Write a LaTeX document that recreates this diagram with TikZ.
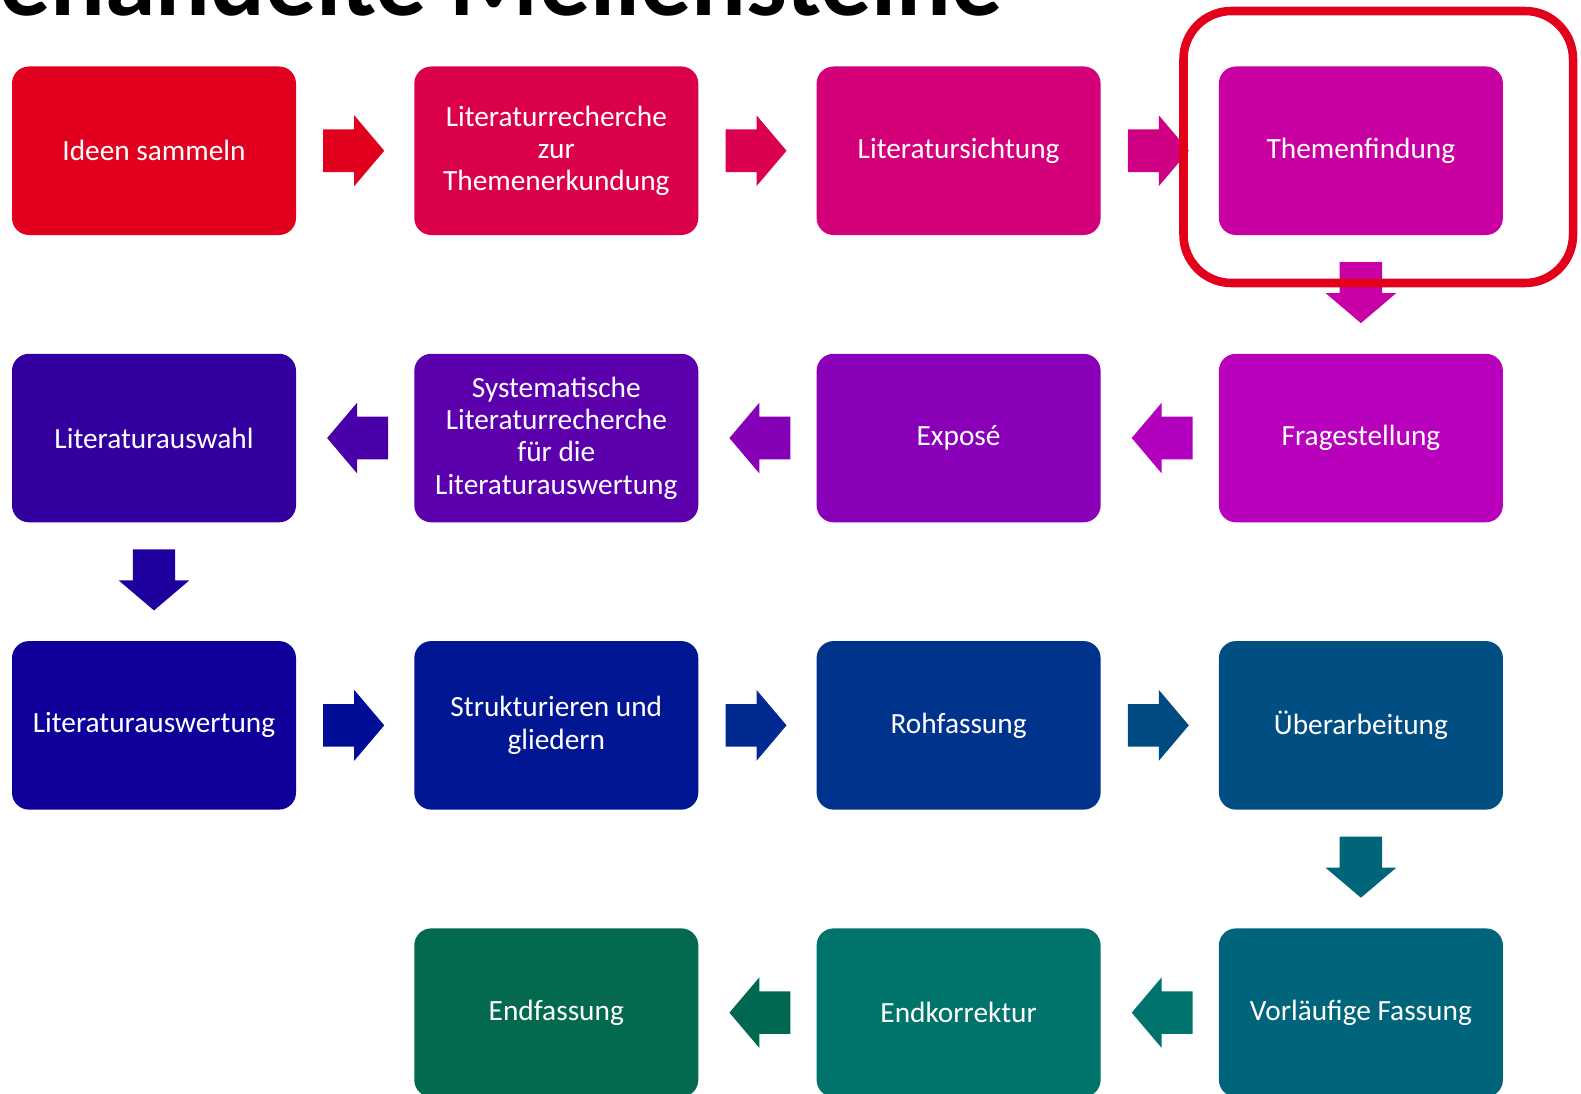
\documentclass[tikz,border=0pt]{standalone}
\usepackage{fontspec}
\setmainfont{Carlito}
\usetikzlibrary{calc}

% step colours, red through violet and blue to green
\definecolor{s1}{HTML}{E2001F}
\definecolor{s2}{HTML}{DA004B}
\definecolor{s3}{HTML}{D3007A}
\definecolor{s4}{HTML}{C800A1}
\definecolor{s5}{HTML}{B900BD}
\definecolor{s6}{HTML}{8900B8}
\definecolor{s7}{HTML}{5C00AE}
\definecolor{s8}{HTML}{33009F}
\definecolor{s9}{HTML}{10009A}
\definecolor{s10}{HTML}{001693}
\definecolor{s11}{HTML}{00338C}
\definecolor{s12}{HTML}{004E82}
\definecolor{s13}{HTML}{00647A}
\definecolor{s14}{HTML}{00736B}
\definecolor{s15}{HTML}{036A4F}
% arrow colours
\definecolor{a1}{HTML}{E2001F}
\definecolor{a2}{HTML}{DB0050}
\definecolor{a3}{HTML}{D00084}
\definecolor{a4}{HTML}{C800A5}
\definecolor{a5}{HTML}{B200BE}
\definecolor{a6}{HTML}{8600B8}
\definecolor{a7}{HTML}{4A00A8}
\definecolor{a8}{HTML}{1F009F}
\definecolor{a9}{HTML}{000D97}
\definecolor{a10}{HTML}{002A90}
\definecolor{a11}{HTML}{004A82}
\definecolor{a12}{HTML}{006579}
\definecolor{a13}{HTML}{00736D}
\definecolor{a14}{HTML}{006850}
\definecolor{frame}{HTML}{E2001A}

% block arrows between two named boxes
\newcommand{\arrowRight}[3]{%
  \fill[#3] ($(#1.east)!0.229!(#2.west)+(0,-21.3)$) -- ++(31,0) -- ++(0,-14.1)
    -- ++(30,35.4) -- ++(-30,35.4) -- ++(0,-14.1) -- ++(-31,0) -- cycle;}
\newcommand{\arrowLeft}[3]{%
  \fill[#3] ($(#1.west)!0.22!(#2.east)+(0,-21.3)$) -- ++(-31,0) -- ++(0,-14.1)
    -- ++(-30,35.4) -- ++(30,35.4) -- ++(0,-14.1) -- ++(31,0) -- cycle;}
\newcommand{\arrowDown}[3]{%
  \fill[#3] ($(#1.south)!0.227!(#2.north)+(-21.2,0)$) -- ++(0,31) -- ++(-14.1,0)
    -- ++(35.3,30) -- ++(35.3,-30) -- ++(-14.1,0) -- ++(0,-31) -- cycle;}

\begin{document}
\begin{tikzpicture}[x=0.75pt,y=-0.75pt,
  stepbox/.style={rectangle, rounded corners=12.75pt, inner sep=0pt,
    minimum width=213pt, minimum height=126.4pt, text=white, align=center,
    font=\fontsize{22}{24.2}\selectfont}]
\useasboundingbox (0,0) rectangle (1581,1094);
\clip (0,0) rectangle (1581,1094);

% heading, cut by the top edge
\node[anchor=base east, inner sep=0pt, font=\bfseries\fontsize{76.5}{80}\selectfont]
  (title) at (1003,16) {Behandelte Meilensteine};

% row 1
\node[stepbox, fill=s1] (n1) at (154,150.75) {Ideen sammeln};
\node[stepbox, fill=s2] (n2) at (556.3,150.75) {Literaturrecherche\\zur\\Themenerkundung};
\node[stepbox, fill=s3] (n3) at (958.6,150.75) {Literatursichtung};
\node[stepbox, fill=s4] (n4) at (1360.9,150.75) {Themenfindung};
% row 2
\node[stepbox, fill=s5] (n5) at (1360.9,438.05) {Fragestellung};
\node[stepbox, fill=s6] (n6) at (958.6,438.05) {Exposé};
\node[stepbox, fill=s7] (n7) at (556.3,438.05) {Systematische\\Literaturrecherche\\für die\\Literaturauswertung};
\node[stepbox, fill=s8] (n8) at (154,438.05) {Literaturauswahl};
% row 3
\node[stepbox, fill=s9] (n9) at (154,725.35) {Literaturauswertung};
\node[stepbox, fill=s10] (n10) at (556.3,725.35) {Strukturieren und\\gliedern};
\node[stepbox, fill=s11] (n11) at (958.6,725.35) {Rohfassung};
\node[stepbox, fill=s12] (n12) at (1360.9,725.35) {Überarbeitung};
% row 4
\node[stepbox, fill=s13] (n13) at (1360.9,1012.65) {Vorläufige Fassung};
\node[stepbox, fill=s14] (n14) at (958.6,1012.65) {Endkorrektur};
\node[stepbox, fill=s15] (n15) at (556.3,1012.65) {Endfassung};

% connecting block arrows
\arrowRight{n1}{n2}{a1}
\arrowRight{n2}{n3}{a2}
\arrowRight{n3}{n4}{a3}
\arrowDown{n4}{n5}{a4}
\arrowLeft{n5}{n6}{a5}
\arrowLeft{n6}{n7}{a6}
\arrowLeft{n7}{n8}{a7}
\arrowDown{n8}{n9}{a8}
\arrowRight{n9}{n10}{a9}
\arrowRight{n10}{n11}{a10}
\arrowRight{n11}{n12}{a11}
\arrowDown{n12}{n13}{a12}
\arrowLeft{n13}{n14}{a13}
\arrowLeft{n14}{n15}{a14}

% highlight frame round the current step
\draw[frame, line width=6.4pt, rounded corners=36pt]
  (1183.5,11) rectangle (1573,283);
\end{tikzpicture}
\end{document}
